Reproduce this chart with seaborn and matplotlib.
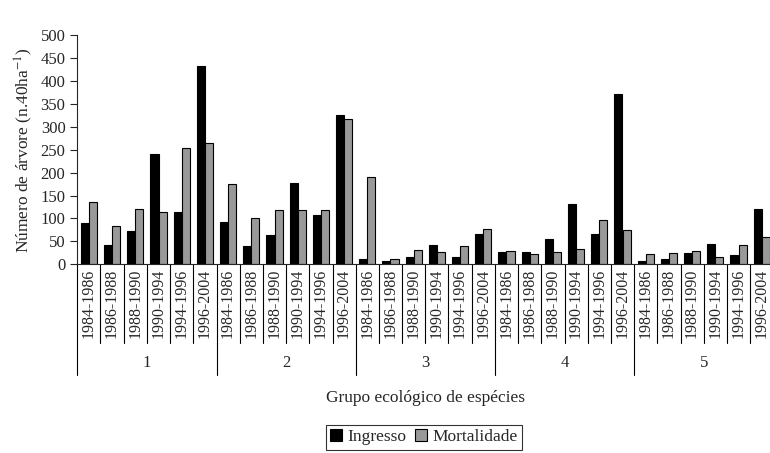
import numpy as np
import pandas as pd
import seaborn as sns
import matplotlib.pyplot as plt
import matplotlib.transforms as mtransforms

# values
grupos = ['1', '2', '3', '4', '5']
periodos = ['1984-1986', '1986-1988', '1988-1990', '1990-1994', '1994-1996', '1996-2004']
ingresso = [89, 43, 72, 241, 115, 433,
            93, 40, 63, 178, 107, 326,
            11, 7, 17, 41, 15, 67,
            27, 26, 55, 132, 66, 371,
            8, 11, 24, 44, 21, 121]
mortalidade = [135, 83, 120, 115, 253, 265,
               176, 101, 118, 118, 118, 317,
               190, 11, 32, 26, 40, 77,
               28, 23, 26, 34, 97, 74,
               23, 25, 28, 17, 43, 60]

sns.set_style("ticks")
plt.rcParams['font.family'] = ['Liberation Serif', 'DejaVu Serif']
plt.rcParams['mathtext.fontset'] = 'stix'

# one unique key per bar pair, so repeated periods stay separate
chaves = [f'{g}|{p}' for g in grupos for p in periodos]
df = pd.DataFrame({
    'chave': chaves * 2,
    'valor': ingresso + mortalidade,
    'serie': ['Ingresso'] * len(chaves) + ['Mortalidade'] * len(chaves),
})

fig = plt.figure(figsize=(7.7, 4.53), dpi=100)
ax = fig.add_axes([77.3 / 770, 1 - 264.3 / 453, 696 / 770, 229.3 / 453])

sns.barplot(data=df, x='chave', y='valor', hue='serie', order=chaves,
            palette={'Ingresso': 'black', 'Mortalidade': '#999999'},
            edgecolor='black', linewidth=0.8, width=0.7, ax=ax)

ax.set_xlim(-0.5, len(chaves) - 0.5)
ax.set_ylim(0, 500)
ax.set_yticks(np.arange(0, 501, 50))
ax.tick_params(axis='y', labelsize=12, length=5, direction='out', width=0.8)
ax.set_ylabel(r'Número de árvore (n.40ha$^{-1}$)', fontsize=12.5, labelpad=4)

ax.set_xticks(range(len(chaves)))
ax.set_xticklabels(periodos * len(grupos), rotation=90, fontsize=11.5)
ax.tick_params(axis='x', length=0, pad=3)
ax.set_xlabel('')
sns.despine(ax=ax)
for s in ['left', 'bottom']:
    ax.spines[s].set_linewidth(0.8)

# separators under the axis: short between periods, long between groups
trans = mtransforms.blended_transform_factory(ax.transData, ax.transAxes)
for i in range(len(chaves) + 1):
    x = i - 0.5
    fim = -0.484 if i % len(periodos) == 0 else -0.3445
    ax.plot([x, x], [0, fim], color='black', lw=0.8, transform=trans, clip_on=False)
for j, g in enumerate(grupos):
    cx = j * len(periodos) + (len(periodos) - 1) / 2
    ax.text(cx, -0.43, g, transform=trans, ha='center', va='center', fontsize=12)

fig.text(426 / 770, 1 - 398 / 453, 'Grupo ecológico de espécies', ha='center', va='center', fontsize=12.5)

handles, labels = ax.get_legend_handles_labels()
ax.legend_.remove()
leg = fig.legend(handles, labels, loc='upper center', bbox_to_anchor=(424 / 770, 1 - 425 / 453),
                 ncol=2, frameon=True, fancybox=False, edgecolor='black',
                 prop={'family': 'Liberation Serif', 'size': 12.5},
                 handlelength=0.7, handleheight=0.7, handletextpad=0.3, columnspacing=0.5,
                 borderpad=0.25, borderaxespad=0)
leg.get_frame().set_linewidth(0.8)

plt.savefig('out.png', dpi=100)
